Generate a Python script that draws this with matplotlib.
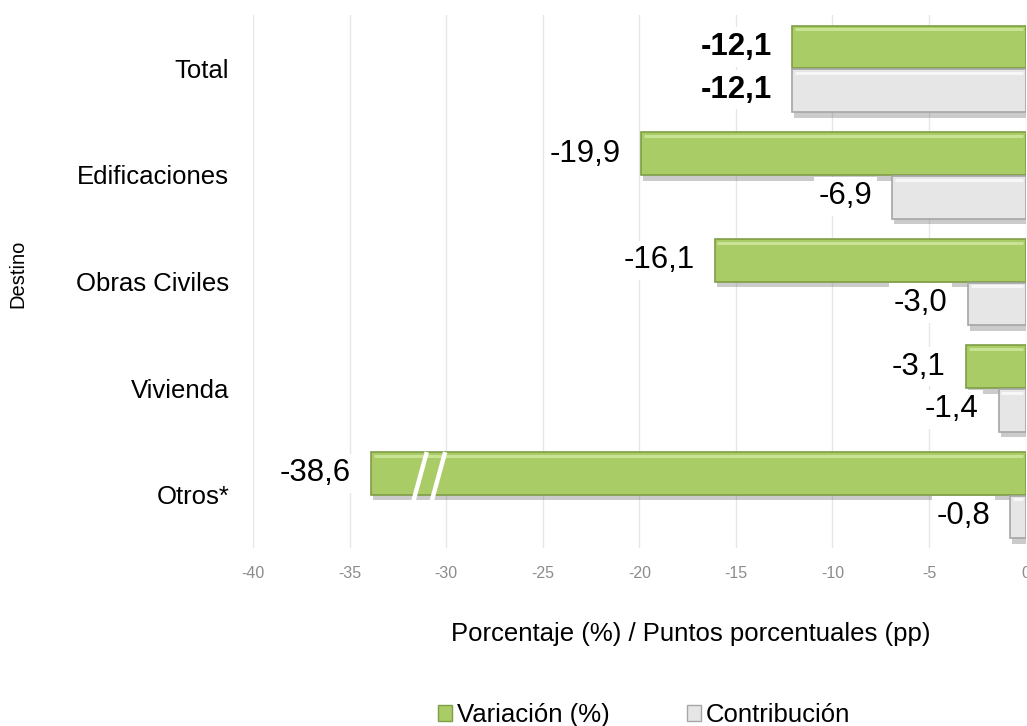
import matplotlib
matplotlib.use("Agg")
import matplotlib.pyplot as plt
import matplotlib.patheffects as pe
from matplotlib.patches import Patch
import numpy as np

# ---- data ----
categories = ["Total", "Edificaciones", "Obras Civiles", "Vivienda", "Otros*"]
variacion = [-12.1, -19.9, -16.1, -3.1, -38.6]
contribucion = [-12.1, -6.9, -3.0, -1.4, -0.8]
x_ticks = [-40, -35, -30, -25, -20, -15, -10, -5, 0]
series_names = ["Variación (%)", "Contribución"]
x_label = "Porcentaje (%) / Puntos porcentuales (pp)"
y_label = "Destino"

# ---- style ----
plt.rcParams['font.family'] = ['Liberation Sans', 'DejaVu Sans']
GREEN = "#a9cc66"
GREEN_EDGE = "#7f9e45"
GREEN_HI = "#c9e394"
GRAY = "#e6e6e6"
GRAY_EDGE = "#a6a6a6"
GRAY_HI = "#f7f7f7"
BREAK_CAP = -33.9   # visual truncation of very long bars (axis break)
BAR_H = 0.40

fig = plt.figure(figsize=(10.27, 7.26), dpi=100)
ax = fig.add_axes([0.2463, 0.2452, 0.7523, 0.734])

y = np.arange(len(categories))
shadow = [pe.SimplePatchShadow(offset=(1.5, -4), shadow_rgbFace="#555555", alpha=0.3), pe.Normal()]

var_disp = [max(v, BREAK_CAP) for v in variacion]
b1 = ax.barh(y - BAR_H / 2, var_disp, height=BAR_H, color=GREEN, edgecolor=GREEN_EDGE,
             linewidth=1.2, zorder=3)
b2 = ax.barh(y + BAR_H / 2 + 0.01, contribucion, height=BAR_H, color=GRAY, edgecolor=GRAY_EDGE,
             linewidth=1.2, zorder=3)
for bars, hi in ((b1, GREEN_HI), (b2, GRAY_HI)):
    for p in bars:
        p.set_path_effects(shadow)
        # bevel highlight along the top edge
        x0, y0 = p.get_x(), p.get_y()
        w = p.get_width()
        ax.plot([x0 + w + 0.15, x0 - 0.15], [y0 + 0.035, y0 + 0.035], color=hi, lw=2.2,
                solid_capstyle="butt", zorder=4)

def fmt(v):
    return f"{v:.1f}".replace(".", ",")

for i in range(len(categories)):
    weight = "bold" if i == 0 else "normal"
    ax.annotate(fmt(variacion[i]), xy=(var_disp[i], y[i] - BAR_H / 2), xytext=(-14.5, 0),
                textcoords="offset points", ha="right", va="center", fontsize=22.5,
                fontweight=weight, color="black", zorder=5,
                bbox=dict(boxstyle="square,pad=0.15", fc="white", ec="none"))
    ax.annotate(fmt(contribucion[i]), xy=(contribucion[i], y[i] + BAR_H / 2), xytext=(-14.5, 0),
                textcoords="offset points", ha="right", va="center", fontsize=22.5,
                fontweight=weight, color="black", zorder=5,
                bbox=dict(boxstyle="square,pad=0.15", fc="white", ec="none"))
    # axis-break marks on truncated bars
    if variacion[i] < BREAK_CAP:
        xc = BREAK_CAP + 2.9
        yt = y[i] - BAR_H
        yb = y[i] + 0.13
        for dx in (0.0, 0.95):
            ax.plot([xc + dx, xc + dx - 0.8], [yt, yb], color="white", lw=3.2,
                    solid_capstyle="butt", zorder=6)

ax.set_xlim(x_ticks[0], x_ticks[-1])
ax.set_ylim(len(categories) - 0.5, -0.5)
ax.set_xticks(x_ticks)
ax.set_xticklabels([str(t) for t in x_ticks], color="#8c8c8c", fontsize=11.5)
ax.set_yticks(y)
ax.set_yticklabels(categories, fontsize=18.5)
ax.tick_params(axis="both", length=0)
ax.tick_params(axis="x", pad=13)
ax.tick_params(axis="y", pad=17)
for s in ax.spines.values():
    s.set_visible(False)
ax.xaxis.grid(True, color="#e6e6e6", lw=1, zorder=0)
ax.set_axisbelow(True)

fig.text(0.0175, 1 - 274 / 726, y_label, rotation=90, ha="center", va="center", fontsize=14.5)
fig.text(691 / 1027, 1 - 634 / 726, x_label, ha="center", va="center", fontsize=18.5)

handles = [Patch(facecolor=GREEN, edgecolor=GREEN_EDGE), Patch(facecolor=GRAY, edgecolor=GRAY_EDGE)]
fig.legend(handles, series_names, loc="center", bbox_to_anchor=(644 / 1027, 1 - 715 / 726),
           ncol=2, frameon=False, fontsize=18.5, handlelength=0.55, handleheight=0.55,
           handletextpad=0.2, columnspacing=3.0, borderpad=0)

fig.savefig("out.png", dpi=100)
